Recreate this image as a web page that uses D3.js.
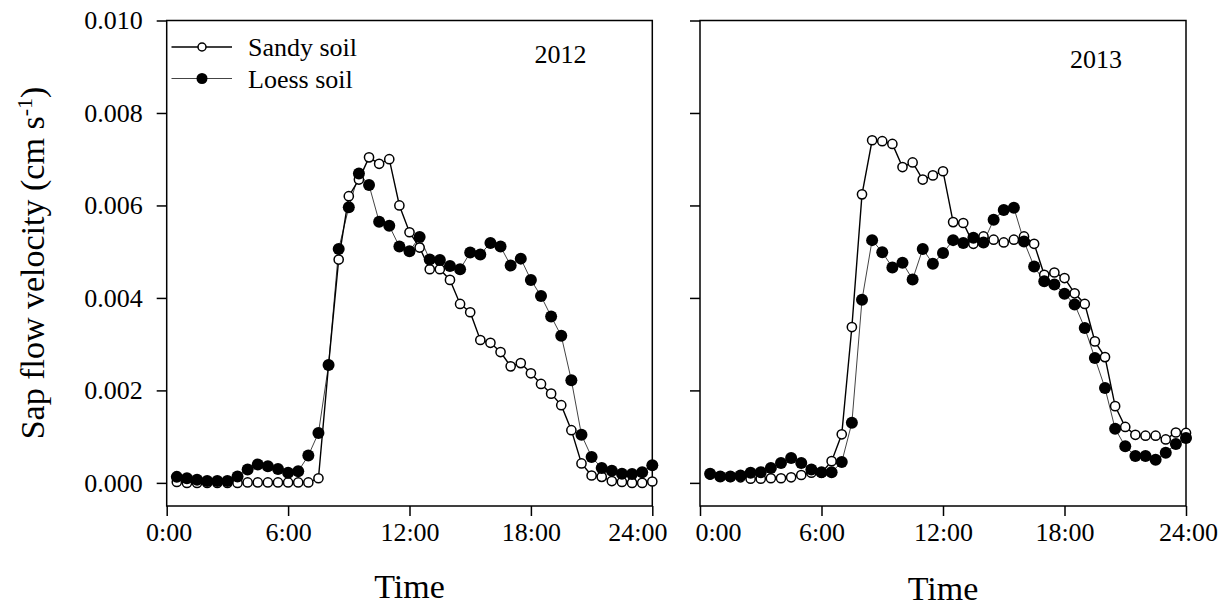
<!DOCTYPE html>
<html>
<head>
<meta charset="utf-8">
<script src="https://cdn.jsdelivr.net/npm/d3@7"></script>
<style>
  body { margin: 0; background: #fff; }
  text { font-family: "Liberation Serif", "Times New Roman", serif; }
</style>
</head>
<body>
<svg id="chart" width="1232" height="609"></svg>
<script>
// half-hourly readings, 0:30 .. 24:00
const hours = [0.5, 1, 1.5, 2, 2.5, 3, 3.5, 4, 4.5, 5, 5.5, 6, 6.5, 7, 7.5, 8,
  8.5, 9, 9.5, 10, 10.5, 11, 11.5, 12, 12.5, 13, 13.5, 14, 14.5, 15, 15.5, 16,
  16.5, 17, 17.5, 18, 18.5, 19, 19.5, 20, 20.5, 21, 21.5, 22, 22.5, 23, 23.5, 24];

const sandy2012 = [0.00002, 0.00000, 0.00000, 0.00000, 0.00000, 0.00000, 0.00000, 0.00001,
  0.00001, 0.00001, 0.00001, 0.00001, 0.00001, 0.00001, 0.00010, 0.00255,
  0.00483, 0.00620, 0.00656, 0.00704, 0.00690, 0.00700, 0.00600, 0.00542,
  0.00509, 0.00462, 0.00462, 0.00439, 0.00387, 0.00369, 0.00309, 0.00303,
  0.00283, 0.00252, 0.00259, 0.00237, 0.00214, 0.00193, 0.00168, 0.00114,
  0.00042, 0.00016, 0.00013, 0.00004, 0.00002, 0.00000, 0.00000, 0.00003];

const loess2012 = [0.00013, 0.00010, 0.00007, 0.00004, 0.00004, 0.00004, 0.00014, 0.00029,
  0.00040, 0.00036, 0.00030, 0.00022, 0.00025, 0.00059, 0.00108, 0.00255,
  0.00506, 0.00596, 0.00669, 0.00644, 0.00565, 0.00556, 0.00511, 0.00501,
  0.00532, 0.00483, 0.00482, 0.00469, 0.00462, 0.00498, 0.00494, 0.00519,
  0.00511, 0.00470, 0.00485, 0.00439, 0.00404, 0.00360, 0.00318, 0.00222,
  0.00104, 0.00056, 0.00032, 0.00026, 0.00020, 0.00019, 0.00023, 0.00038];

const sandy2013 = [0.00018, 0.00014, 0.00013, 0.00012, 0.00009, 0.00009, 0.00010, 0.00010,
  0.00012, 0.00017, 0.00022, 0.00022, 0.00047, 0.00105, 0.00337, 0.00624,
  0.00741, 0.00739, 0.00733, 0.00683, 0.00693, 0.00656, 0.00665, 0.00674,
  0.00564, 0.00562, 0.00517, 0.00533, 0.00526, 0.00520, 0.00526, 0.00533,
  0.00517, 0.00450, 0.00455, 0.00443, 0.00410, 0.00387, 0.00306, 0.00272,
  0.00166, 0.00121, 0.00104, 0.00102, 0.00102, 0.00094, 0.00109, 0.00108];

const loess2013 = [0.00020, 0.00014, 0.00014, 0.00016, 0.00022, 0.00023, 0.00032, 0.00043,
  0.00054, 0.00043, 0.00029, 0.00023, 0.00023, 0.00045, 0.00130, 0.00396,
  0.00525, 0.00499, 0.00466, 0.00476, 0.00440, 0.00506, 0.00474, 0.00497,
  0.00525, 0.00519, 0.00530, 0.00520, 0.00569, 0.00590, 0.00595, 0.00522,
  0.00468, 0.00436, 0.00429, 0.00409, 0.00386, 0.00335, 0.00270, 0.00205,
  0.00117, 0.00079, 0.00058, 0.00058, 0.00050, 0.00065, 0.00084, 0.00097];

const timeTicks = [0, 6, 12, 18, 24];
const timeLabels = ["0:00", "6:00", "12:00", "18:00", "24:00"];
const velTicks = [0, 0.002, 0.004, 0.006, 0.008, 0.010];
const seriesNames = ["Sandy soil", "Loess soil"];

const svg = d3.select("#chart");
const FONT = '"Liberation Serif", "Times New Roman", serif';

const y = d3.scaleLinear().domain([-0.0005, 0.010]).range([506, 20.5]);

const drawPanel = (left, right, sandy, loess, opts) => {
  const x = d3.scaleLinear().domain([0, 24]).range([left, right]);
  const g = svg.append("g");

  // frame
  g.append("rect")
    .attr("x", x(0)).attr("y", y(0.010))
    .attr("width", x(24) - x(0)).attr("height", y(-0.0005) - y(0.010))
    .attr("fill", "none").attr("stroke", "#000").attr("stroke-width", 1.5);

  const xAxis = g.append("g")
    .attr("transform", "translate(0," + y(-0.0005) + ")")
    .call(d3.axisBottom(x).tickValues(timeTicks)
      .tickFormat((d, i) => timeLabels[i])
      .tickSize(10).tickSizeOuter(0).tickPadding(7));

  const yAxis = g.append("g")
    .attr("transform", "translate(" + x(0) + ",0)")
    .call(d3.axisLeft(y).tickValues(velTicks)
      .tickFormat(opts.yLabels ? d3.format(".3f") : "")
      .tickSize(10).tickSizeOuter(0).tickPadding(14));

  [xAxis, yAxis].forEach(a => {
    a.attr("font-family", FONT).attr("font-size", 26);
    a.select(".domain").remove();
    a.selectAll("line").attr("stroke-width", 1.5);
    a.selectAll("text").attr("fill", "#000");
  });
  // end labels are nudged apart where the two panels meet
  xAxis.selectAll(".tick text").attr("dx", (d, i) => opts.labelShift[i] || 0);

  const line = d3.line().x((d, i) => x(hours[i])).y(d => y(d));

  g.append("path").datum(loess)
    .attr("d", line).attr("fill", "none")
    .attr("stroke", "#444").attr("stroke-width", 1);
  g.append("path").datum(sandy)
    .attr("d", line).attr("fill", "none")
    .attr("stroke", "#000").attr("stroke-width", 1.4);

  g.selectAll(".sandy").data(sandy).enter().append("circle")
    .attr("class", "sandy")
    .attr("cx", (d, i) => x(hours[i])).attr("cy", d => y(d))
    .attr("r", 4.6).attr("fill", "#fff")
    .attr("stroke", "#000").attr("stroke-width", 1.5);

  g.selectAll(".loess").data(loess).enter().append("circle")
    .attr("class", "loess")
    .attr("cx", (d, i) => x(hours[i])).attr("cy", d => y(d))
    .attr("r", 6).attr("fill", "#000");

  g.append("text")
    .attr("x", opts.yearX).attr("y", opts.yearY)
    .attr("text-anchor", "middle").attr("font-size", 26)
    .text(opts.year);

  g.append("text")
    .attr("x", x(12)).attr("y", opts.timeY)
    .attr("text-anchor", "middle").attr("font-size", 34)
    .text("Time");

  return x;
};

drawPanel(166.7, 652.3, sandy2012, loess2012,
  { yLabels: true, year: "2012", yearX: 560.5, yearY: 63, timeY: 598,
    labelShift: [2, 0, 0, 0, -15] });
drawPanel(700, 1186, sandy2013, loess2013,
  { yLabels: false, year: "2013", yearX: 1096, yearY: 68, timeY: 600,
    labelShift: [18, 0, 0, 0, 2] });

// legend, top left of the 2012 panel
const legend = svg.append("g");
const legendY = [47, 78.5];
seriesNames.forEach((name, i) => {
  legend.append("line")
    .attr("x1", 171.5).attr("x2", 232).attr("y1", legendY[i]).attr("y2", legendY[i])
    .attr("stroke", i === 0 ? "#000" : "#444").attr("stroke-width", i === 0 ? 1.4 : 1);
  legend.append("circle")
    .attr("cx", 202).attr("cy", legendY[i]).attr("r", i === 0 ? 4 : 5.5)
    .attr("fill", i === 0 ? "#fff" : "#000")
    .attr("stroke", "#000").attr("stroke-width", i === 0 ? 1.5 : 0);
  legend.append("text")
    .attr("x", 248).attr("y", legendY[i] + 9)
    .attr("font-size", 26).text(name);
});

// y axis title
const yTitle = svg.append("text")
  .attr("transform", "translate(44,263) rotate(-90)")
  .attr("text-anchor", "middle").attr("font-size", 34);
yTitle.append("tspan").text("Sap flow velocity (cm s");
yTitle.append("tspan").attr("dy", -12).attr("font-size", 22).text("-1");
yTitle.append("tspan").attr("dy", 12).text(")");
</script>
</body>
</html>
